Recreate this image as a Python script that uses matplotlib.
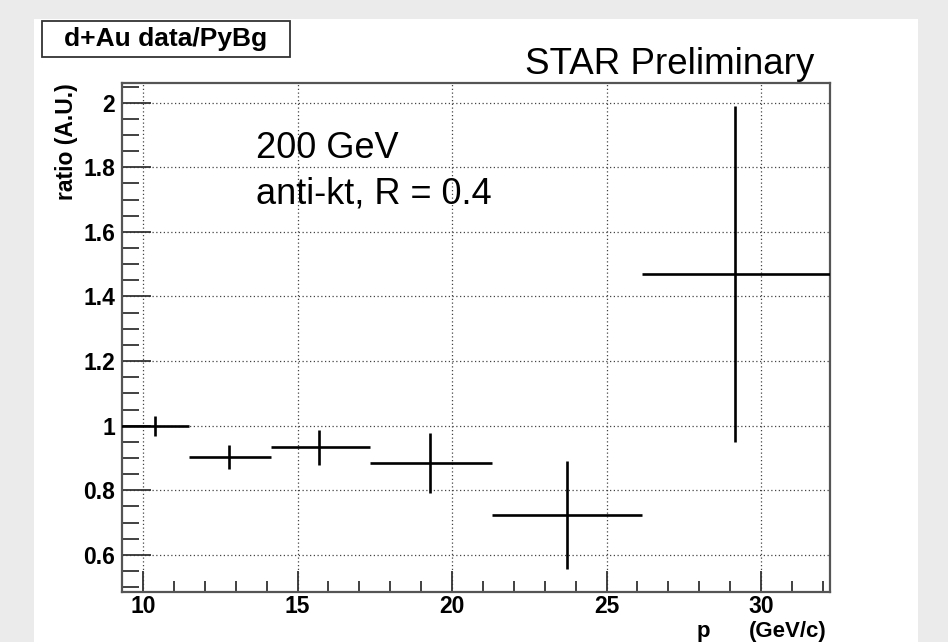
import matplotlib
matplotlib.use("Agg")
import matplotlib.pyplot as plt
import numpy as np
from matplotlib.patches import Rectangle
from matplotlib.ticker import MultipleLocator, FormatStrFormatter

plt.rcParams['font.family'] = ['Liberation Sans', 'DejaVu Sans']

# jet pT bins (GeV/c), first and last edge run off the frame
bin_lo = [9.0, 11.49, 14.13, 17.36, 21.29, 26.16]
bin_hi = [11.49, 14.13, 17.36, 21.29, 26.16, 33.0]
bin_center = [10.40, 12.78, 15.68, 19.28, 23.71, 29.14]
ratio = [1.000, 0.902, 0.933, 0.885, 0.723, 1.469]
ratio_err = [0.031, 0.037, 0.054, 0.092, 0.168, 0.520]

W, H = 948, 642
fig = plt.figure(figsize=(W / 100, H / 100), dpi=100, facecolor='#ebebeb')

# white pad like the ROOT canvas
fig.patches.append(Rectangle((34 / W, 0), (918 - 34) / W, (H - 19) / H,
                             transform=fig.transFigure, facecolor='white',
                             edgecolor='none', zorder=-5))

ax = fig.add_axes([122 / W, (H - 592) / H, (830 - 122) / W, (592 - 83) / H])
ax.set_zorder(3)

x = np.array(bin_center)
xerr = [x - np.array(bin_lo), np.array(bin_hi) - x]
ax.errorbar(x, ratio, xerr=xerr, yerr=ratio_err, fmt='none',
            ecolor='black', elinewidth=1.9, capsize=0, zorder=3)

ax.set_xlim(9.32, 32.23)
ax.set_ylim(0.485, 2.061)

ax.xaxis.set_major_locator(MultipleLocator(5))
ax.xaxis.set_minor_locator(MultipleLocator(1))
ax.yaxis.set_major_locator(MultipleLocator(0.2))
ax.yaxis.set_minor_locator(MultipleLocator(0.05))
ax.yaxis.set_major_formatter(FormatStrFormatter('%g'))

ax.tick_params(axis='both', which='both', direction='in', color='#333333',
               width=1.3, labelsize=16.5)
ax.tick_params(axis='y', which='major', length=21, pad=5)
ax.tick_params(axis='y', which='minor', length=12)
ax.tick_params(axis='x', which='major', length=15, pad=2)
ax.tick_params(axis='x', which='minor', length=8)
for lab in ax.get_xticklabels() + ax.get_yticklabels():
    lab.set_fontweight('bold')

ax.grid(True, which='major', linestyle=(0, (1, 2)), color='#444444', linewidth=0.9)
ax.set_axisbelow(True)
for s in ax.spines.values():
    s.set_color('#555555')
    s.set_linewidth(1.6)

# y title, top aligned with the frame
fig.text(66 / W, 1 - 83 / H, 'ratio (A.U.)', rotation=90, ha='center', va='top',
         fontsize=16.5, fontweight='bold')

# x title sits on the bottom edge of the canvas
fig.text(703 / W, 0, 'p', ha='center', va='bottom', fontsize=16, fontweight='bold')
fig.text(788 / W, 0, '(GeV/c)', ha='center', va='bottom', fontsize=16, fontweight='bold')

fig.text(670 / W, 1 - 74 / H, 'STAR Preliminary', ha='center', va='baseline', fontsize=26.5)
ax.text(256 / W, 1 - 158 / H, '200 GeV', transform=fig.transFigure,
        ha='left', va='baseline', fontsize=26)
ax.text(256 / W, 1 - 203 / H, 'anti-kt, R = 0.4', transform=fig.transFigure,
        ha='left', va='baseline', fontsize=26)

# title box
fig.patches.append(Rectangle((41.7 / W, 1 - 57.3 / H), (290 - 41.7) / W, 36 / H,
                             transform=fig.transFigure, facecolor='white',
                             edgecolor='#333333', linewidth=1.3, zorder=1))
fig.text(166 / W, 1 - 39 / H, 'd+Au data/PyBg', ha='center', va='center',
         fontsize=19, fontweight='bold', zorder=2)

fig.savefig('out.png', dpi=100, facecolor=fig.get_facecolor())
